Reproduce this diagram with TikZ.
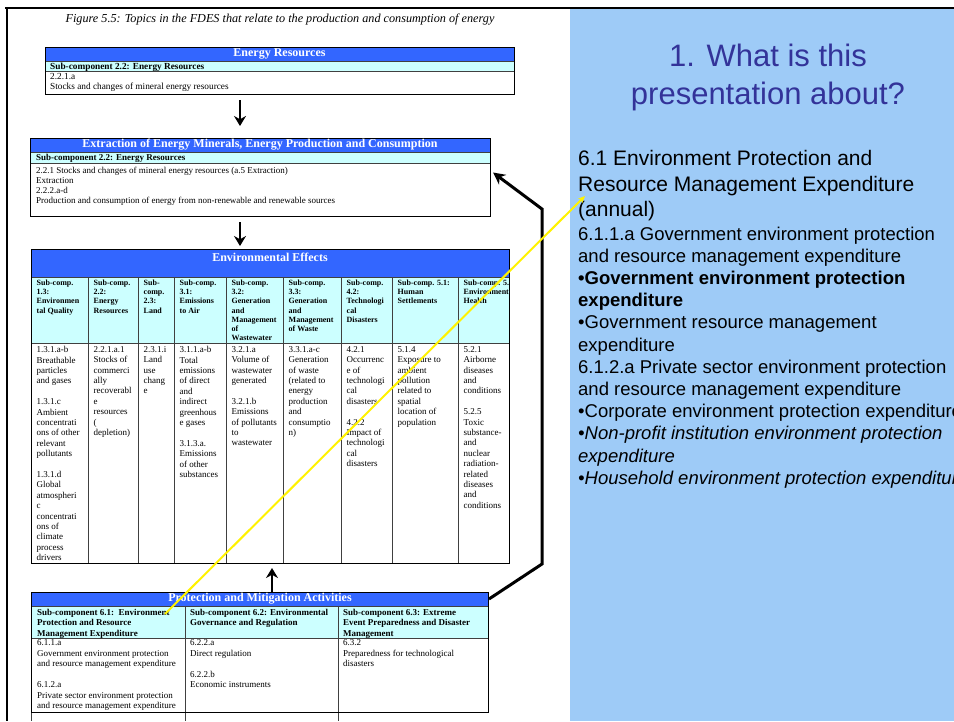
\documentclass[tikz,border=0pt]{standalone}
\usepackage{fontspec}
\setmainfont{Liberation Serif}
\newfontfamily\slidefont{Liberation Sans}
\usetikzlibrary{arrows.meta}

\definecolor{hdrblue}{RGB}{51,102,255}
\definecolor{subcyan}{RGB}{204,255,255}
\definecolor{slideblue}{RGB}{158,203,247}
\definecolor{titleblue}{RGB}{51,51,153}

\begin{document}
\begin{tikzpicture}[x=1pt, y=-1pt,
    boxline/.style={draw=black, line width=1pt, inner sep=0pt, anchor=north west},
    rule/.style={draw=black!75, line width=0.8pt},
    hdrtxt/.style={text=white, inner sep=0pt, font=\bfseries\fontsize{12}{12}\selectfont},
    subtxt/.style={anchor=north west, inner sep=0pt, align=left, font=\bfseries\fontsize{9}{10}\selectfont},
    bodytxt/.style={anchor=north west, inner sep=0pt, align=left, font=\fontsize{9}{10}\selectfont},
    cellhd/.style={anchor=north west, inner sep=0pt, align=left, font=\bfseries\fontsize{8}{9.1}\selectfont},
    cellbd/.style={anchor=north west, inner sep=0pt, align=left, font=\fontsize{9}{10.4}\selectfont},
    prottxt/.style={anchor=north west, inner sep=0pt, align=left, font=\fontsize{9}{10.5}\selectfont},
    flowarrow/.style={line width=2.5pt, -{Stealth[length=10pt, width=12pt]}},
    backline/.style={line width=3pt, line join=miter, -{Stealth[length=12pt, width=12pt]}},
    pointer/.style={draw=yellow, line width=2pt, -{Stealth[length=7pt, width=6pt]}},
    slidetxt/.style={anchor=north west, inner sep=0pt, align=left, font=\slidefont\fontsize{18.5}{22.2}\selectfont}]

% page and slide background
\clip (0,0) rectangle (954,721);
\fill[white] (0,0) rectangle (954,721);
\fill[slideblue] (570,9) rectangle (954,721);
\draw[line width=2.5pt] (5,8) -- (954,8);
\draw[line width=2.5pt] (7,8) -- (7,721);

\node[inner sep=0pt, font=\itshape\fontsize{12.2}{12.2}\selectfont] (caption) at (280,20)
  {Figure 5.5: Topics in the FDES that relate to the production and consumption of energy};

% Energy Resources
\fill[hdrblue] (45,47) rectangle (514,61);
\fill[subcyan] (45,61) rectangle (514,71);
\draw[rule] (45,61) -- (514,61) (45,71) -- (514,71);
\node[boxline, minimum width=469, minimum height=47] (enres) at (45,47) {};
\node[hdrtxt] (enreshd) at (279.5,54) {Energy Resources};
\node[subtxt, font=\bfseries\fontsize{9.3}{10}\selectfont] (enressub) at (50,62.8) {Sub-component 2.2: Energy Resources};
\node[bodytxt, font=\fontsize{9.3}{10}\selectfont] (enresbd) at (50,72.8) {2.2.1.a\\Stocks and changes of mineral energy resources};

% Extraction
\fill[hdrblue] (30,138) rectangle (490,152);
\fill[subcyan] (30,152) rectangle (490,163);
\draw[rule] (30,152) -- (490,152) (30,163) -- (490,163);
\node[boxline, minimum width=460, minimum height=78] (extract) at (30,138) {};
\node[hdrtxt] (extracthd) at (260,145) {Extraction of Energy Minerals, Energy Production and Consumption};
\node[subtxt] (extractsub) at (36,154.4) {Sub-component 2.2: Energy Resources};
\node[bodytxt] (extractbd) at (36,166.9) {2.2.1 Stocks and changes of mineral energy resources (a.5 Extraction)\\Extraction\\2.2.2.a-d\\Production and consumption of energy from non-renewable and renewable sources};

% Environmental Effects
\fill[hdrblue] (31,249) rectangle (509,277);
\fill[subcyan] (31,277) rectangle (509,343);
\draw[rule] (31,277) -- (509,277) (31,343) -- (509,343);
\foreach \cx in {88,138,174,226,283,341,392,458}
  \draw[rule] (\cx,277) -- (\cx,563);
\node[boxline, minimum width=478, minimum height=314] (envtab) at (31,249) {};
\node[hdrtxt] (envtabhd) at (270,257) {Environmental Effects};
\begin{scope}
\clip (31,277) rectangle (508,563);
\foreach \cx/\hd/\bd in {
  31/{Sub-comp.\\1.3:\\Environmen\\tal Quality}/{1.3.1.a-b\\Breathable\\particles\\and gases\\[10.4pt]1.3.1.c\\Ambient\\concentrati\\ons of other\\relevant\\pollutants\\[10.4pt]1.3.1.d\\Global\\atmospheri\\c\\concentrati\\ons of\\climate\\process\\drivers},
  88/{Sub-comp.\\2.2:\\Energy\\Resources}/{2.2.1.a.1\\Stocks of\\commerci\\ally\\recoverabl\\e\\resources\\(\\depletion)},
  138/{Sub-\\comp.\\2.3:\\Land}/{2.3.1.i\\Land\\use\\chang\\e},
  174/{Sub-comp.\\3.1:\\Emissions\\to Air}/{3.1.1.a-b\\Total\\emissions\\of direct\\and\\indirect\\greenhous\\e gases\\[10.4pt]3.1.3.a.\\Emissions\\of other\\substances},
  226/{Sub-comp.\\3.2:\\Generation\\and\\Management\\of\\Wastewater}/{3.2.1.a\\Volume of\\wastewater\\generated\\[10.4pt]3.2.1.b\\Emissions\\of pollutants\\to\\wastewater},
  283/{Sub-comp.\\3.3:\\Generation\\and\\Management\\of Waste}/{3.3.1.a-c\\Generation\\of waste\\(related to\\energy\\production\\and\\consumptio\\n)},
  341/{Sub-comp.\\4.2:\\Technologi\\cal\\Disasters}/{4.2.1\\Occurrenc\\e of\\technologi\\cal\\disasters\\[10.4pt]4.2.2\\Impact of\\technologi\\cal\\disasters},
  392/{Sub-comp. 5.1:\\Human\\Settlements}/{5.1.4\\Exposure to\\ambient\\pollution\\related to\\spatial\\location of\\population},
  458/{Sub-comp. 5.2:\\Environmental\\Health}/{5.2.1\\Airborne\\diseases\\and\\conditions\\[10.4pt]5.2.5\\Toxic\\substance-\\and\\nuclear\\radiation-\\related\\diseases\\and\\conditions}}
{
  \node[cellhd] (colhd\cx) at (\cx+5.5,280) {\hd};
  \node[cellbd] (colbd\cx) at (\cx+5.5,346.2) {\bd};
}
\end{scope}

% Protection and Mitigation
\fill[hdrblue] (31,592) rectangle (488,606);
\fill[subcyan] (31,606) rectangle (488,638);
\draw[rule] (31,606) -- (488,606) (31,638) -- (488,638);
\draw[rule] (185.7,606) -- (185.7,721) (338,606) -- (338,721) (31,712) -- (31,721);
\node[boxline, minimum width=457, minimum height=120] (prot) at (31,592) {};
\node[hdrtxt] (prothd) at (260,599) {Protection and Mitigation Activities};
\node[subtxt, font=\bfseries\fontsize{9}{10.5}\selectfont] (prot61) at (37,608.6) {Sub-component 6.1:\ \ Environment\\Protection and Resource\\Management Expenditure};
\node[subtxt, font=\bfseries\fontsize{9}{10.5}\selectfont] (prot62) at (190,608.6) {Sub-component 6.2: Environmental\\Governance and Regulation};
\node[subtxt, font=\bfseries\fontsize{9}{10.5}\selectfont] (prot63) at (343,608.6) {Sub-component 6.3: Extreme\\Event Preparedness and Disaster\\Management};
\node[prottxt] (prot61bd) at (37,639.6) {6.1.1.a\\Government environment protection\\and resource management expenditure\\[10.5pt]6.1.2.a\\Private sector environment protection\\and resource management expenditure};
\node[prottxt] (prot62bd) at (190,639.6) {6.2.2.a\\Direct regulation\\[10.5pt]6.2.2.b\\Economic instruments};
\node[prottxt] (prot63bd) at (343,639.6) {6.3.2\\Preparedness for technological\\disasters};

% flow arrows
\coordinate (flowx) at (240,0);
\coordinate (upx) at (272,0);
\draw[flowarrow, shorten <=5pt, shorten >=12pt] (enres.south -| flowx) -- (extract.north -| flowx);
\draw[flowarrow, shorten <=5pt, shorten >=3pt] (extract.south -| flowx) -- (envtab.north -| flowx);
\draw[flowarrow, shorten >=4pt] (prot.north -| upx) -- (envtab.south -| upx);
\coordinate (backlow) at (542,564);
\coordinate (backtop) at (542,209);
\draw[backline] ([yshift=-7pt]prot.north east) -- (backlow) -- (backtop) -- ([xshift=2pt, yshift=5pt]extract.east);

% slide text
\node[inner sep=0pt, align=center, text=titleblue, anchor=north, font=\slidefont\fontsize{31}{38}\selectfont] (title) at (768,43.9) {1. What is this\\presentation about?};
\node[slidetxt, font=\slidefont\fontsize{21}{25.5}\selectfont] (item61) at (578,150.5) {6.1 Environment Protection and\\Resource Management Expenditure\\(annual)};
\node[slidetxt] (items) at (578,226.4) {6.1.1.a Government environment protection\\and resource management expenditure\\\textbf{•Government environment protection}\\\textbf{expenditure}\\•Government resource management\\expenditure\\6.1.2.a Private sector environment protection\\and resource management expenditure\\•Corporate environment protection expenditure\\\textit{•Non-profit institution environment protection}\\\textit{expenditure}\\\textit{•Household environment protection expenditure}};

% highlight pointer
\coordinate (ptrfrom) at (165,614);
\coordinate (ptrto) at (585,196);
\draw[pointer] (ptrfrom) -- (ptrto);
\end{tikzpicture}
\end{document}
